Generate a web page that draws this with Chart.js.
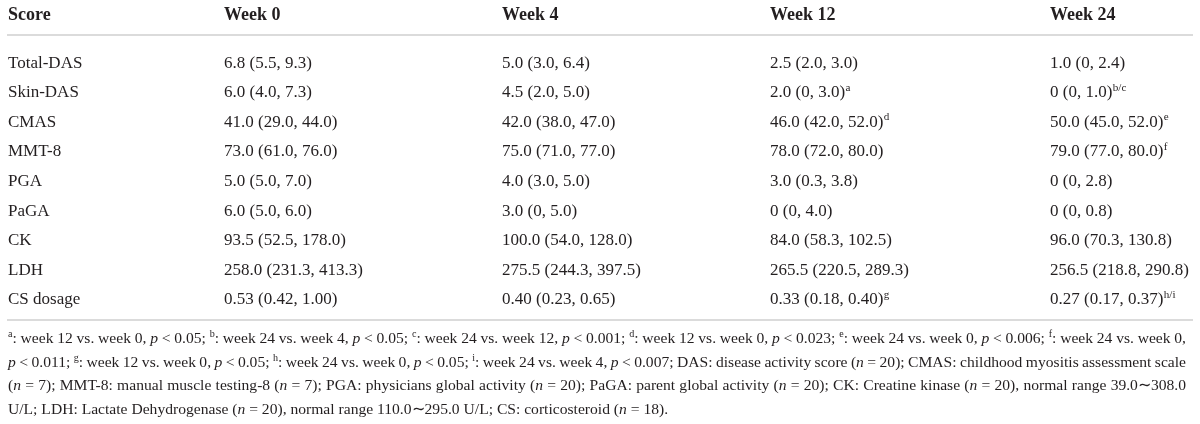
<!DOCTYPE html>
<html><head><meta charset="utf-8">
<script src="https://cdn.jsdelivr.net/npm/chart.js@4.4.1/dist/chart.umd.min.js"></script>
<style>html,body{margin:0;padding:0;background:#fff}#wrap{width:1200px;height:424px;position:relative}</style>
</head><body><div id="wrap"><canvas id="c"></canvas></div>
<script>
// ---- data ----
const columns = ["Score", "Week 0", "Week 4", "Week 12", "Week 24"];
const scores = ["Total-DAS", "Skin-DAS", "CMAS", "MMT-8", "PGA", "PaGA", "CK", "LDH", "CS dosage"];
const week0 = ["6.8 (5.5, 9.3)", "6.0 (4.0, 7.3)", "41.0 (29.0, 44.0)", "73.0 (61.0, 76.0)", "5.0 (5.0, 7.0)", "6.0 (5.0, 6.0)", "93.5 (52.5, 178.0)", "258.0 (231.3, 413.3)", "0.53 (0.42, 1.00)"];
const week4 = ["5.0 (3.0, 6.4)", "4.5 (2.0, 5.0)", "42.0 (38.0, 47.0)", "75.0 (71.0, 77.0)", "4.0 (3.0, 5.0)", "3.0 (0, 5.0)", "100.0 (54.0, 128.0)", "275.5 (244.3, 397.5)", "0.40 (0.23, 0.65)"];
const week12 = ["2.5 (2.0, 3.0)", "2.0 (0, 3.0)", "46.0 (42.0, 52.0)", "78.0 (72.0, 80.0)", "3.0 (0.3, 3.8)", "0 (0, 4.0)", "84.0 (58.3, 102.5)", "265.5 (220.5, 289.3)", "0.33 (0.18, 0.40)"];
const week24 = ["1.0 (0, 2.4)", "0 (0, 1.0)", "50.0 (45.0, 52.0)", "79.0 (77.0, 80.0)", "0 (0, 2.8)", "0 (0, 0.8)", "96.0 (70.3, 130.8)", "256.5 (218.8, 290.8)", "0.27 (0.17, 0.37)"];
const week0Marks = ["", "", "", "", "", "", "", "", ""];
const week4Marks = ["", "", "", "", "", "", "", "", ""];
const week12Marks = ["", "a", "d", "", "", "", "", "", "g"];
const week24Marks = ["", "b/c", "e", "f", "", "", "", "", "h/i"];
// footnote lines: ^x^ = superscript, _x_ = italic
const footnotes = [
  "^a^: week 12 vs. week 0, _p_ < 0.05; ^b^: week 24 vs. week 4, _p_ < 0.05; ^c^: week 24 vs. week 12, _p_ < 0.001; ^d^: week 12 vs. week 0, _p_ < 0.023; ^e^: week 24 vs. week 0, _p_ < 0.006; ^f^: week 24 vs. week 0,",
  "_p_ < 0.011; ^g^: week 12 vs. week 0, _p_ < 0.05; ^h^: week 24 vs. week 0, _p_ < 0.05; ^i^: week 24 vs. week 4, _p_ < 0.007; DAS: disease activity score (_n_ = 20); CMAS: childhood myositis assessment scale",
  "(_n_ = 7); MMT-8: manual muscle testing-8 (_n_ = 7); PGA: physicians global activity (_n_ = 20); PaGA: parent global activity (_n_ = 20); CK: Creatine kinase (_n_ = 20), normal range 39.0\u223c308.0",
  "U/L; LDH: Lactate Dehydrogenase (_n_ = 20), normal range 110.0\u223c295.0 U/L; CS: corticosteroid (_n_ = 18)."
];

const cellValues = [week0, week4, week12, week24];
const cellMarks = [week0Marks, week4Marks, week12Marks, week24Marks];

// ---- rendering helpers ----
const FAMILY = '"Liberation Serif", "Times New Roman", serif';

function parseRich(str) {
  const segs = [];
  const re = /\^([^^]+)\^|_([^_]+)_|([^^_]+)/g;
  let m;
  while ((m = re.exec(str))) {
    if (m[1] !== undefined) segs.push({ t: m[1], s: 'sup' });
    else if (m[2] !== undefined) segs.push({ t: m[2], s: 'i' });
    else segs.push({ t: m[3], s: 'n' });
  }
  return segs;
}

function fontFor(style, size) {
  if (style === 'sup') return (size * 0.65).toFixed(1) + 'px ' + FAMILY;
  if (style === 'i') return 'italic ' + size + 'px ' + FAMILY;
  return size + 'px ' + FAMILY;
}

function drawRich(ctx, segs, x, y, size, justifyTo) {
  const tokens = [];
  segs.forEach(sg => {
    sg.t.split(/( )/).forEach(part => {
      if (part === '') return;
      tokens.push({ t: part, s: sg.s, space: part === ' ' });
    });
  });
  let natural = 0, nSpaces = 0;
  tokens.forEach(tk => {
    ctx.font = fontFor(tk.s, size);
    tk.w = ctx.measureText(tk.t).width;
    natural += tk.w;
    if (tk.space) nSpaces++;
  });
  let extra = 0;
  if (justifyTo && nSpaces > 0) extra = (justifyTo - x - natural) / nSpaces;
  let cx = x;
  tokens.forEach(tk => {
    ctx.font = fontFor(tk.s, size);
    if (!tk.space) ctx.fillText(tk.t, cx, tk.s === 'sup' ? y - size * 0.36 : y);
    cx += tk.w + (tk.space ? extra : 0);
  });
}

const tablePlugin = {
  id: 'tableText',
  afterDraw(chart, args, opts) {
    const ctx = chart.ctx;
    const yScale = chart.scales.y;
    const area = chart.chartArea;
    ctx.save();
    ctx.fillStyle = opts.color;
    ctx.textBaseline = 'alphabetic';
    ctx.textAlign = 'left';
    // header
    ctx.font = 'bold ' + opts.headerSize + 'px ' + FAMILY;
    columns.forEach((c, i) => ctx.fillText(c, opts.colStarts[i], area.top - opts.headerOffset));
    // rules
    ctx.strokeStyle = opts.ruleColor;
    ctx.lineWidth = opts.ruleWidth;
    ctx.beginPath();
    ctx.moveTo(opts.ruleLeft, area.top - opts.topRuleOffset);
    ctx.lineTo(opts.ruleRight, area.top - opts.topRuleOffset);
    ctx.moveTo(opts.ruleLeft, area.bottom + opts.bottomRuleOffset);
    ctx.lineTo(opts.ruleRight, area.bottom + opts.bottomRuleOffset);
    ctx.stroke();
    // body rows
    scores.forEach((s, r) => {
      const yc = yScale.getPixelForValue(r) + opts.baselineShift;
      ctx.font = opts.bodySize + 'px ' + FAMILY;
      ctx.fillText(s, opts.colStarts[0], yc);
      cellValues.forEach((col, ci) => {
        const x = opts.colStarts[ci + 1];
        ctx.font = opts.bodySize + 'px ' + FAMILY;
        ctx.fillText(col[r], x, yc);
        const mk = cellMarks[ci][r];
        if (mk) {
          const w = ctx.measureText(col[r]).width;
          ctx.font = (opts.bodySize * 0.65).toFixed(1) + 'px ' + FAMILY;
          ctx.fillText(mk, x + w + 0.5, yc - opts.bodySize * 0.38);
        }
      });
    });
    // footnotes
    footnotes.forEach((line, i) => {
      const y = area.bottom + opts.noteOffset + i * opts.noteLine;
      const last = i === footnotes.length - 1;
      drawRich(ctx, parseRich(line), opts.colStarts[0], y, opts.noteSize, last ? null : opts.noteRight);
    });
    ctx.restore();
  }
};

new Chart(document.getElementById('c'), {
  type: 'bar',
  data: { labels: scores, datasets: [] },
  options: {
    responsive: true,
    maintainAspectRatio: false,
    animation: false,
    indexAxis: 'y',
    layout: { padding: { top: 47, bottom: 111, left: 0, right: 0 } },
    plugins: {
      legend: { display: false },
      tooltip: { enabled: false },
      tableText: {
        color: '#231f20',
        colStarts: [8, 224, 502, 770, 1050],
        headerSize: 18,
        headerOffset: 27,
        bodySize: 17,
        baselineShift: 6,
        ruleColor: '#cfcfcf',
        ruleWidth: 1.5,
        ruleLeft: 7,
        ruleRight: 1193,
        topRuleOffset: 12,
        bottomRuleOffset: 7,
        noteSize: 15.6,
        noteOffset: 30,
        noteLine: 23.5,
        noteRight: 1186
      }
    },
    scales: {
      y: { type: 'category', display: false, offset: true },
      x: { type: 'linear', display: false, min: 0, max: 1 }
    }
  },
  plugins: [tablePlugin]
});
</script>
</body></html>
